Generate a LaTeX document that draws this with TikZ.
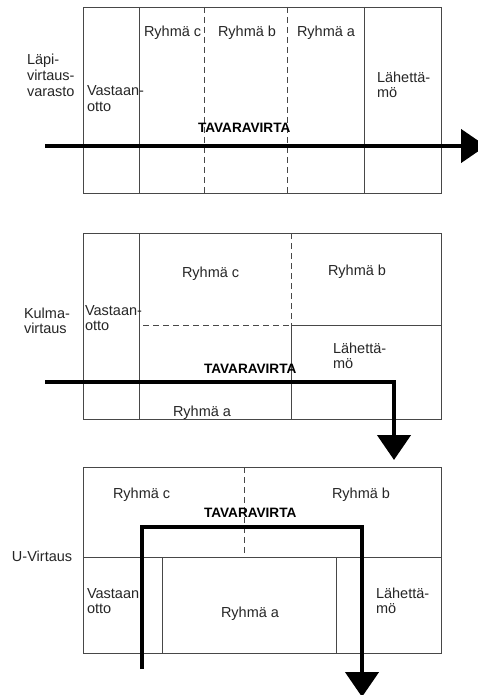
\documentclass[tikz,border=0pt]{standalone}
\usepackage{fontspec}
\setmainfont{Liberation Sans}
\usetikzlibrary{arrows.meta}
\tikzset{
  gridline/.style={draw=black!72, line width=0.9pt},
  dashline/.style={draw=black!72, line width=0.9pt, dash pattern=on 6pt off 4pt},
  flow/.style={draw=black, line width=4.5pt, line join=miter, -{Triangle[length=25pt,width=33pt]}},
  lbl/.style={anchor=base west, inner sep=0pt, outer sep=0pt, text=black!85, font=\fontsize{14.5}{15.5}\selectfont},
  boldlbl/.style={anchor=base west, inner sep=0pt, outer sep=0pt, text=black, font=\fontsize{13.6}{15}\selectfont\bfseries}
}
\begin{document}
\begin{tikzpicture}[x=1pt,y=-1pt]
\useasboundingbox (0,0) rectangle (478,695);
\clip (0,0) rectangle (478,695);
\fill[white] (0,0) rectangle (478,695);

% ---------- top: Läpivirtausvarasto ----------
\draw[gridline] (83,7) rectangle (441,193);
\draw[gridline] (139,7) -- (139,193);
\draw[gridline] (364,7) -- (364,193);
\draw[dashline] (204,7) -- (204,193);
\draw[dashline] (287,7) -- (287,193);

\node[lbl] (t-l1) at (27,65) {Läpi-};
\node[lbl] (t-l2) at (27,81) {virtaus-};
\node[lbl] (t-l3) at (27,97) {varasto};
\node[lbl] (t-v1) at (87,96) {Vastaan-};
\node[lbl] (t-v2) at (87,112) {otto};
\node[lbl] (t-c) at (144,37) {Ryhmä c};
\node[lbl] (t-b) at (218,37) {Ryhmä b};
\node[lbl] (t-a) at (297,37) {Ryhmä a};
\node[lbl] (t-s1) at (377,83) {Lähettä-};
\node[lbl] (t-s2) at (377,98) {mö};
\node[boldlbl] (t-flow) at (198,133) {TAVARAVIRTA};

\coordinate (t-start) at (45,146);
\coordinate (t-end) at (486,146);
\draw[flow] (t-start) -- (t-end);

% ---------- middle: Kulmavirtaus ----------
\draw[gridline] (83,233) rectangle (441,419);
\draw[gridline] (139,233) -- (139,419);
\draw[dashline] (291,233) -- (291,325);
\draw[gridline] (291,325) -- (291,419);
\draw[dashline] (143,325) -- (291,325);
\draw[gridline] (291,325) -- (441,325);

\node[lbl] (m-l1) at (24,318) {Kulma-};
\node[lbl] (m-l2) at (24,333) {virtaus};
\node[lbl] (m-v1) at (85,315) {Vastaan-};
\node[lbl] (m-v2) at (85,330) {otto};
\node[lbl] (m-c) at (182,277) {Ryhmä c};
\node[lbl] (m-b) at (328,275) {Ryhmä b};
\node[lbl] (m-s1) at (333,353) {Lähettä-};
\node[lbl] (m-s2) at (333,368) {mö};
\node[boldlbl] (m-flow) at (204,373) {TAVARAVIRTA};
\node[lbl] (m-a) at (173,416) {Ryhmä a};

\coordinate (m-start) at (45,382);
\coordinate (m-corner) at (394,382);
\coordinate (m-end) at (394,460);
\draw[flow] (m-start) -- (m-corner) -- (m-end);

% ---------- bottom: U-virtaus ----------
\draw[gridline] (83,467) rectangle (441,653);
\draw[gridline] (83,557) -- (441,557);
\draw[dashline] (244,467) -- (244,557);
\draw[gridline] (162,557) -- (162,653);
\draw[gridline] (336,557) -- (336,653);

\node[lbl] (u-l) at (12,561) {U-Virtaus};
\node[lbl] (u-c) at (113,498) {Ryhmä c};
\node[lbl] (u-b) at (332,498) {Ryhmä b};
\node[boldlbl] (u-flow) at (204,517) {TAVARAVIRTA};
\node[lbl] (u-v1) at (87,598) {Vastaan};
\node[lbl] (u-v2) at (87,613) {otto};
\node[lbl] (u-a) at (221,617) {Ryhmä a};
\node[lbl] (u-s1) at (376,598) {Lähettä-};
\node[lbl] (u-s2) at (376,613) {mö};

\coordinate (u-start) at (142,669);
\coordinate (u-c1) at (142,527);
\coordinate (u-c2) at (362,527);
\coordinate (u-end) at (362,697);
\draw[flow] (u-start) -- (u-c1) -- (u-c2) -- (u-end);
\end{tikzpicture}
\end{document}
